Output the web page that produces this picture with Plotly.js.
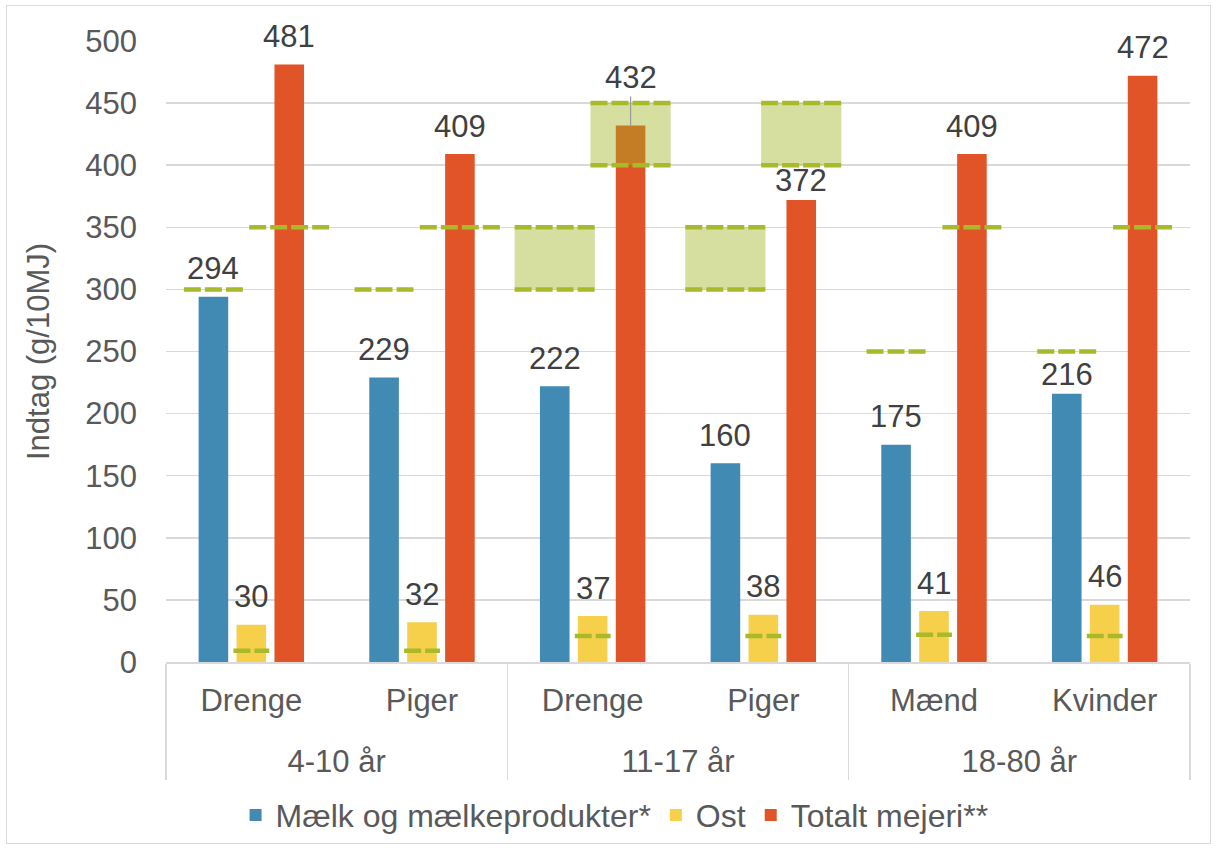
<!DOCTYPE html>
<html>
<head>
<meta charset="utf-8">
<script src="https://cdn.plot.ly/plotly-3.0.1.min.js"></script>
<style>
  html, body { margin: 0; padding: 0; background: #ffffff; }
  #wrap { position: relative; width: 1217px; height: 850px; }
  #chart { width: 1217px; height: 850px; }
  #frame {
    position: absolute; left: 6px; top: 5px; width: 1203px; height: 837px;
    border: 1.5px solid #d9d9d9; pointer-events: none;
  }
</style>
</head>
<body>
<div id="wrap"><div id="chart"></div><div id="frame"></div></div>
<script>
// Daily intake of dairy (g per 10 MJ) by age group and sex
const ageGroups = ['4-10 år', '4-10 år', '11-17 år', '11-17 år', '18-80 år', '18-80 år'];
const subgroups = ['Drenge', 'Piger', 'Drenge', 'Piger', 'Mænd', 'Kvinder'];

const milk = [294, 229, 222, 160, 175, 216];
const cheese = [30, 32, 37, 38, 41, 46];
const totalDairy = [481, 409, 432, 372, 409, 472];

// Recommended levels (single value) per group
const milkRecommended = [300, 300, null, null, 250, 250];
const cheeseRecommended = [9, 9, 21, 21, 22, 21];
const totalRecommended = [350, 350, null, null, 350, 350];

// Recommended intervals for the 11-17 year olds
const milkRangeLow = [null, null, 300, 300, null, null];
const milkRangeHigh = [null, null, 350, 350, null, null];
const totalRangeLow = [null, null, 400, 400, null, null];
const totalRangeHigh = [null, null, 450, 450, null, null];

const seriesNames = ['Mælk og mælkeprodukter*', 'Ost', 'Totalt mejeri**'];

// ---- styling ----
const FONT = 'Liberation Sans, Arial, sans-serif';
const COLORS = { milk: '#418AB3', cheese: '#F6CF4B', total: '#E05428' };
const REC_COLOR = '#A8BA2A';
const BAND_FILL = 'rgba(160,180,32,0.43)';
const BARGAP = 1 / 3;
const BARGROUPGAP = 0.22;
const SLOT = (1 - BARGAP) / 3;              // distance between bar centres in a group
const OFFSETS = { milk: -SLOT, cheese: 0, total: SLOT };
const HALF = { short: 0.173, long: 0.235, cheese: 0.105 };
const totalHalf = [HALF.long, HALF.long, HALF.long, HALF.long, HALF.short, HALF.short];

// a thin spacer line under each sub-label opens up the gap to the age-group row
const LABEL_SPACER = '<br><span style="font-size:6px">\u00A0</span>';
const xCat = [ageGroups, subgroups.map(s => s + LABEL_SPACER)];

function barTrace(name, values, color) {
  return {
    type: 'bar', name: name, x: xCat, y: values,
    marker: { color: color },
    hoverinfo: 'y+name'
  };
}

// horizontal dashed segments centred on a bar position
function segments(values, offset, half) {
  const x = [], y = [];
  values.forEach((v, i) => {
    if (v === null) return;
    const h = Array.isArray(half) ? half[i] : half;
    x.push(i + offset - h, i + offset + h, null);
    y.push(v, v, null);
  });
  return {
    type: 'scatter', mode: 'lines', x: x, y: y, xaxis: 'x2', yaxis: 'y',
    line: { color: REC_COLOR, width: 4.5, dash: '17px,4px' },
    showlegend: false, hoverinfo: 'skip'
  };
}

// shaded recommended intervals
const bandX = [], bandBase = [], bandH = [];
[[milkRangeLow, milkRangeHigh, OFFSETS.milk], [totalRangeLow, totalRangeHigh, OFFSETS.total]]
  .forEach(([lo, hi, off]) => {
    lo.forEach((v, i) => {
      if (v === null) return;
      bandX.push(i + off); bandBase.push(v); bandH.push(hi[i] - v);
    });
  });

const bandTrace = {
  type: 'bar', x: bandX, base: bandBase, y: bandH, width: 2 * HALF.long,
  xaxis: 'x2', yaxis: 'y', marker: { color: BAND_FILL, line: { width: 0 } },
  showlegend: false, hoverinfo: 'skip'
};

const traces = [
  barTrace(seriesNames[0], milk, COLORS.milk),
  barTrace(seriesNames[1], cheese, COLORS.cheese),
  barTrace(seriesNames[2], totalDairy, COLORS.total),
  bandTrace,
  segments(milkRecommended, OFFSETS.milk, HALF.short),
  segments(cheeseRecommended, OFFSETS.cheese, HALF.cheese),
  segments(totalRecommended, OFFSETS.total, totalHalf),
  segments(milkRangeLow, OFFSETS.milk, HALF.long),
  segments(milkRangeHigh, OFFSETS.milk, HALF.long),
  segments(totalRangeLow, OFFSETS.total, HALF.long),
  segments(totalRangeHigh, OFFSETS.total, HALF.long)
];

// value labels
const LABEL_SHIFT = 28;
const labelNudge = { 'milk-5': 19, 'total-3': 19 };
const annotations = [];
[['milk', milk], ['cheese', cheese], ['total', totalDairy]].forEach(([key, vals]) => {
  vals.forEach((v, i) => {
    const a = {
      xref: 'x2', yref: 'y', x: i + OFFSETS[key], y: v, text: String(v),
      font: { family: FONT, size: 31, color: '#404040' },
      showarrow: false, xanchor: 'center', yanchor: 'middle',
      yshift: labelNudge[key + '-' + i] !== undefined ? labelNudge[key + '-' + i] : LABEL_SHIFT
    };
    if (key === 'total' && i === 2) {
      // label lifted above the shaded interval, with a leader line
      Object.assign(a, {
        showarrow: true, ax: 0, ay: -48, arrowhead: 0, arrowwidth: 1.2,
        arrowcolor: '#9a9a9a', standoff: 0, yshift: 0
      });
    }
    annotations.push(a);
  });
});

const layout = {
  width: 1217, height: 850,
  margin: { l: 166, r: 27, t: 41, b: 188 },
  paper_bgcolor: 'rgba(0,0,0,0)', plot_bgcolor: '#ffffff',
  font: { family: FONT, size: 31, color: '#595959' },
  barmode: 'group', bargap: BARGAP, bargroupgap: BARGROUPGAP,
  showlegend: true,
  legend: {
    orientation: 'h', xref: 'container', yref: 'container',
    x: 0.505, xanchor: 'center', y: 0.041, yanchor: 'middle',
    font: { family: FONT, size: 32, color: '#595959' },
    traceorder: 'normal'
  },
  xaxis: {
    type: 'multicategory', range: [-0.5, 5.5],
    showline: true, linecolor: '#d9d9d9', linewidth: 1.5,
    showdividers: true, dividercolor: '#d9d9d9', dividerwidth: 1.5,
    ticks: '', showgrid: false, fixedrange: true, ticklabelstandoff: 10,
    tickfont: { family: FONT, size: 31, color: '#595959' }
  },
  xaxis2: {
    overlaying: 'x', type: 'linear', range: [-0.5, 5.5],
    visible: false, fixedrange: true
  },
  yaxis: {
    range: [0, 500], dtick: 50, tick0: 0,
    showgrid: true, gridcolor: '#d9d9d9', gridwidth: 1.5,
    zeroline: false, showline: false, ticks: '', ticklabelstandoff: 28,
    tickfont: { family: FONT, size: 31, color: '#595959' },
    title: { text: 'Indtag (g/10MJ)', standoff: 26, font: { family: FONT, size: 31, color: '#595959' } },
    fixedrange: true
  },
  annotations: annotations
};

Plotly.newPlot('chart', traces, layout, { displayModeBar: false, staticPlot: true });
</script>
</body>
</html>
